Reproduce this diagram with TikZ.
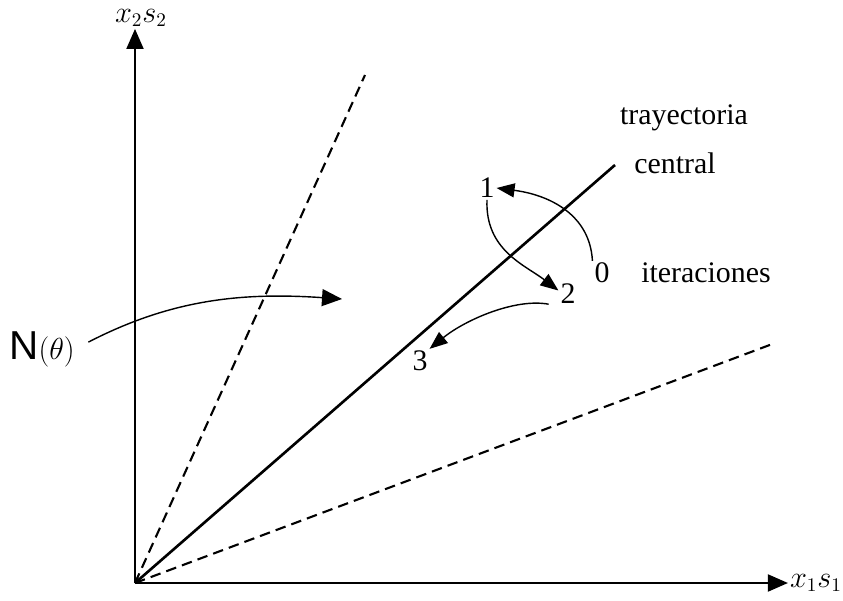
\documentclass[tikz,border=0pt]{standalone}
\usepackage{fontspec}
\setmainfont{Liberation Serif}
\newfontfamily\sansN{Liberation Sans}
\usepackage{tikz}
\usetikzlibrary{arrows.meta}

\begin{document}
\begin{tikzpicture}[x=0.02cm,y=0.02cm,font=\fontsize{17}{20}\selectfont,
 ej/.style={line width=1.1pt,-{Triangle[length=4mm,width=3.4mm]}},
 ar/.style={line width=0.8pt,-{Triangle[length=3.6mm,width=2.8mm]}},
 rec/.style={dash pattern=on 6pt off 3.5pt,line width=1.2pt},num/.style={inner sep=1pt}]
\useasboundingbox (0,0) rectangle (843,600);
\coordinate (O) at (135,17);
\coordinate (d1) at (365,525);
\coordinate (d2) at (775,257);
\coordinate (tc) at (615,435);
\coordinate (pN) at (342,301);
\node[inner sep=1pt,font=\fontsize{16}{18}\selectfont] (ejey) at (141,582) {$x_2s_2$};
\node[inner sep=1pt,font=\fontsize{16}{18}\selectfont] (ejex) at (816,17) {$x_1s_1$};
\draw[ej] (O) -- (O |- ejey.south);
\draw[ej] (O) -- (ejex.west);
\draw[rec] (O) -- (d1);
\draw[rec] (O) -- (d2);
\draw[line width=1.5pt] (O) -- (tc);
\node (tray) at (684,482) {trayectoria};
\node (cent) at (675,437) {central};
\node (iter) at (706,327) {iteraciones};
\node[num] (n0) at (602,327) {0};
\node[num] (n1) at (487,412) {1};
\node[num] (n2) at (568,306) {2};
\node[num] (n3) at (420,239) {3};
\node[inner sep=0pt] (N) at (42,251) {{\sansN\fontsize{23}{25}\selectfont N}{\fontsize{17}{19}\selectfont$(\theta)$}};
\draw[ar] (n0.north west) .. controls (590,385) and (550,405) .. (n1.east);
\draw[ar] (n1.south) .. controls (485,350) and (525,335) .. (n2.160);
\draw[ar,shorten <=2mm] (n2.south west) .. controls (515,302) and (465,280) .. (n3.north east);
\draw[ej,line width=0.8pt,shorten <=3mm] (N.east) .. controls (170,300) and (240,308) .. (pN);
\end{tikzpicture}
\end{document}
